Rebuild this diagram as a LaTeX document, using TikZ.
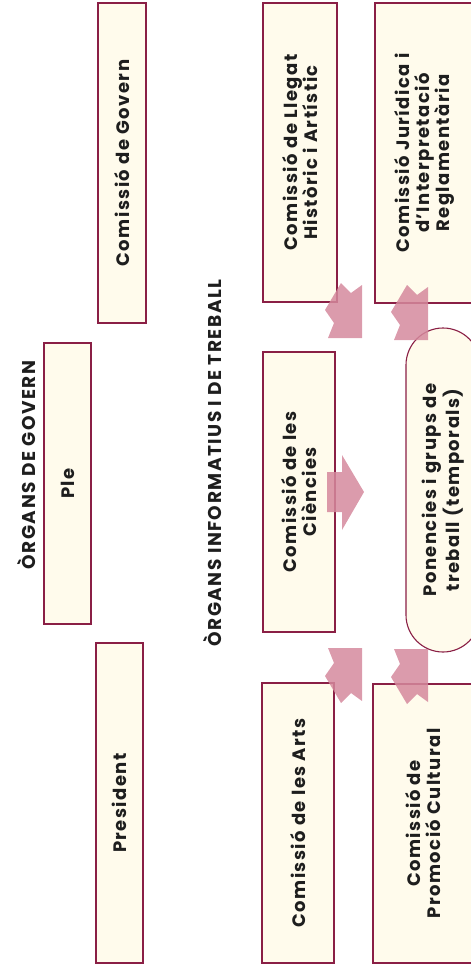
\documentclass[tikz,border=0pt]{standalone}
\usepackage{fontspec}
\setmainfont{Poppins}[LetterSpace=8]
\definecolor{bordc}{HTML}{8A1F45}
\definecolor{boxfill}{HTML}{FFFBEC}
\definecolor{arrowc}{HTML}{D5899D}
\definecolor{txtc}{HTML}{1E1E1E}
\begin{document}
\begin{tikzpicture}[x=1pt,y=1pt,
  box/.style={draw=bordc, line width=1.1pt, fill=boxfill, rotate=90, inner sep=0pt,
    align=center, text=txtc, font=\bfseries\fontsize{18}{20}\selectfont},
  head/.style={rotate=90, text=txtc, inner sep=0pt, font=\bfseries\fontsize{18.5}{20}\selectfont},
  blk/.style={fill=arrowc, fill opacity=0.85},
  notcharrow/.pic={\fill[blk] (16,0) -- (26,-10) -- (37,-2) -- (37,-55) -- (3,-55) -- (9,-40) -- (0,-27) -- cycle;}]
\useasboundingbox (0,0) rectangle (471,-972);
% headings
\node[head] (hgov) at (27,-465) {ÒRGANS DE GOVERN};
\node[head] (hinf) at (213,-463) {ÒRGANS INFORMATIUS I DE TREBALL};
% govern boxes
\node[box, minimum width=320pt, minimum height=48pt] (govern) at (122,-163) {Comissió de Govern};
\node[box, minimum width=281pt, minimum height=47pt] (ple) at (67.5,-483.5) {Ple};
\node[box, minimum width=320pt, minimum height=47pt] (pres) at (119.5,-803) {President};
% work organs
\node[box, minimum width=299pt, minimum height=74pt] (llegat) at (300,-152.5) {Comissió de Llegat\\Històric i Artístic};
\node[box, minimum width=280pt, minimum height=72pt] (ciencies) at (299,-492) {Comissió de les\\Ciències};
\node[box, minimum width=280pt, minimum height=72pt] (arts) at (298,-823) {Comissió de les Arts};
\node[box, minimum width=300pt, minimum height=99pt] (jurid) at (424.5,-153) {Comissió Jurídica i\\d'Interpretació\\Reglamentària};
\node[box, minimum width=279pt, minimum height=101pt] (promo) at (423.5,-823.5) {Comissió de\\Promoció Cultural};
\node[box, rounded corners=37pt, minimum width=324pt, minimum height=74pt] (pon) at (443,-490) {Ponencies i grups de\\treball (temporals)};
% block arrows
\pic at (325,-283) {notcharrow};
\pic at (391,-285) {notcharrow};
\pic[yscale=-1] at (325,-703) {notcharrow};
\pic[yscale=-1] at (391,-704) {notcharrow};
\fill[blk] (327,-472) -- (342,-472) -- (342,-455) -- (364,-492) -- (342,-530) -- (342,-512) -- (327,-512) -- cycle;
\end{tikzpicture}
\end{document}
